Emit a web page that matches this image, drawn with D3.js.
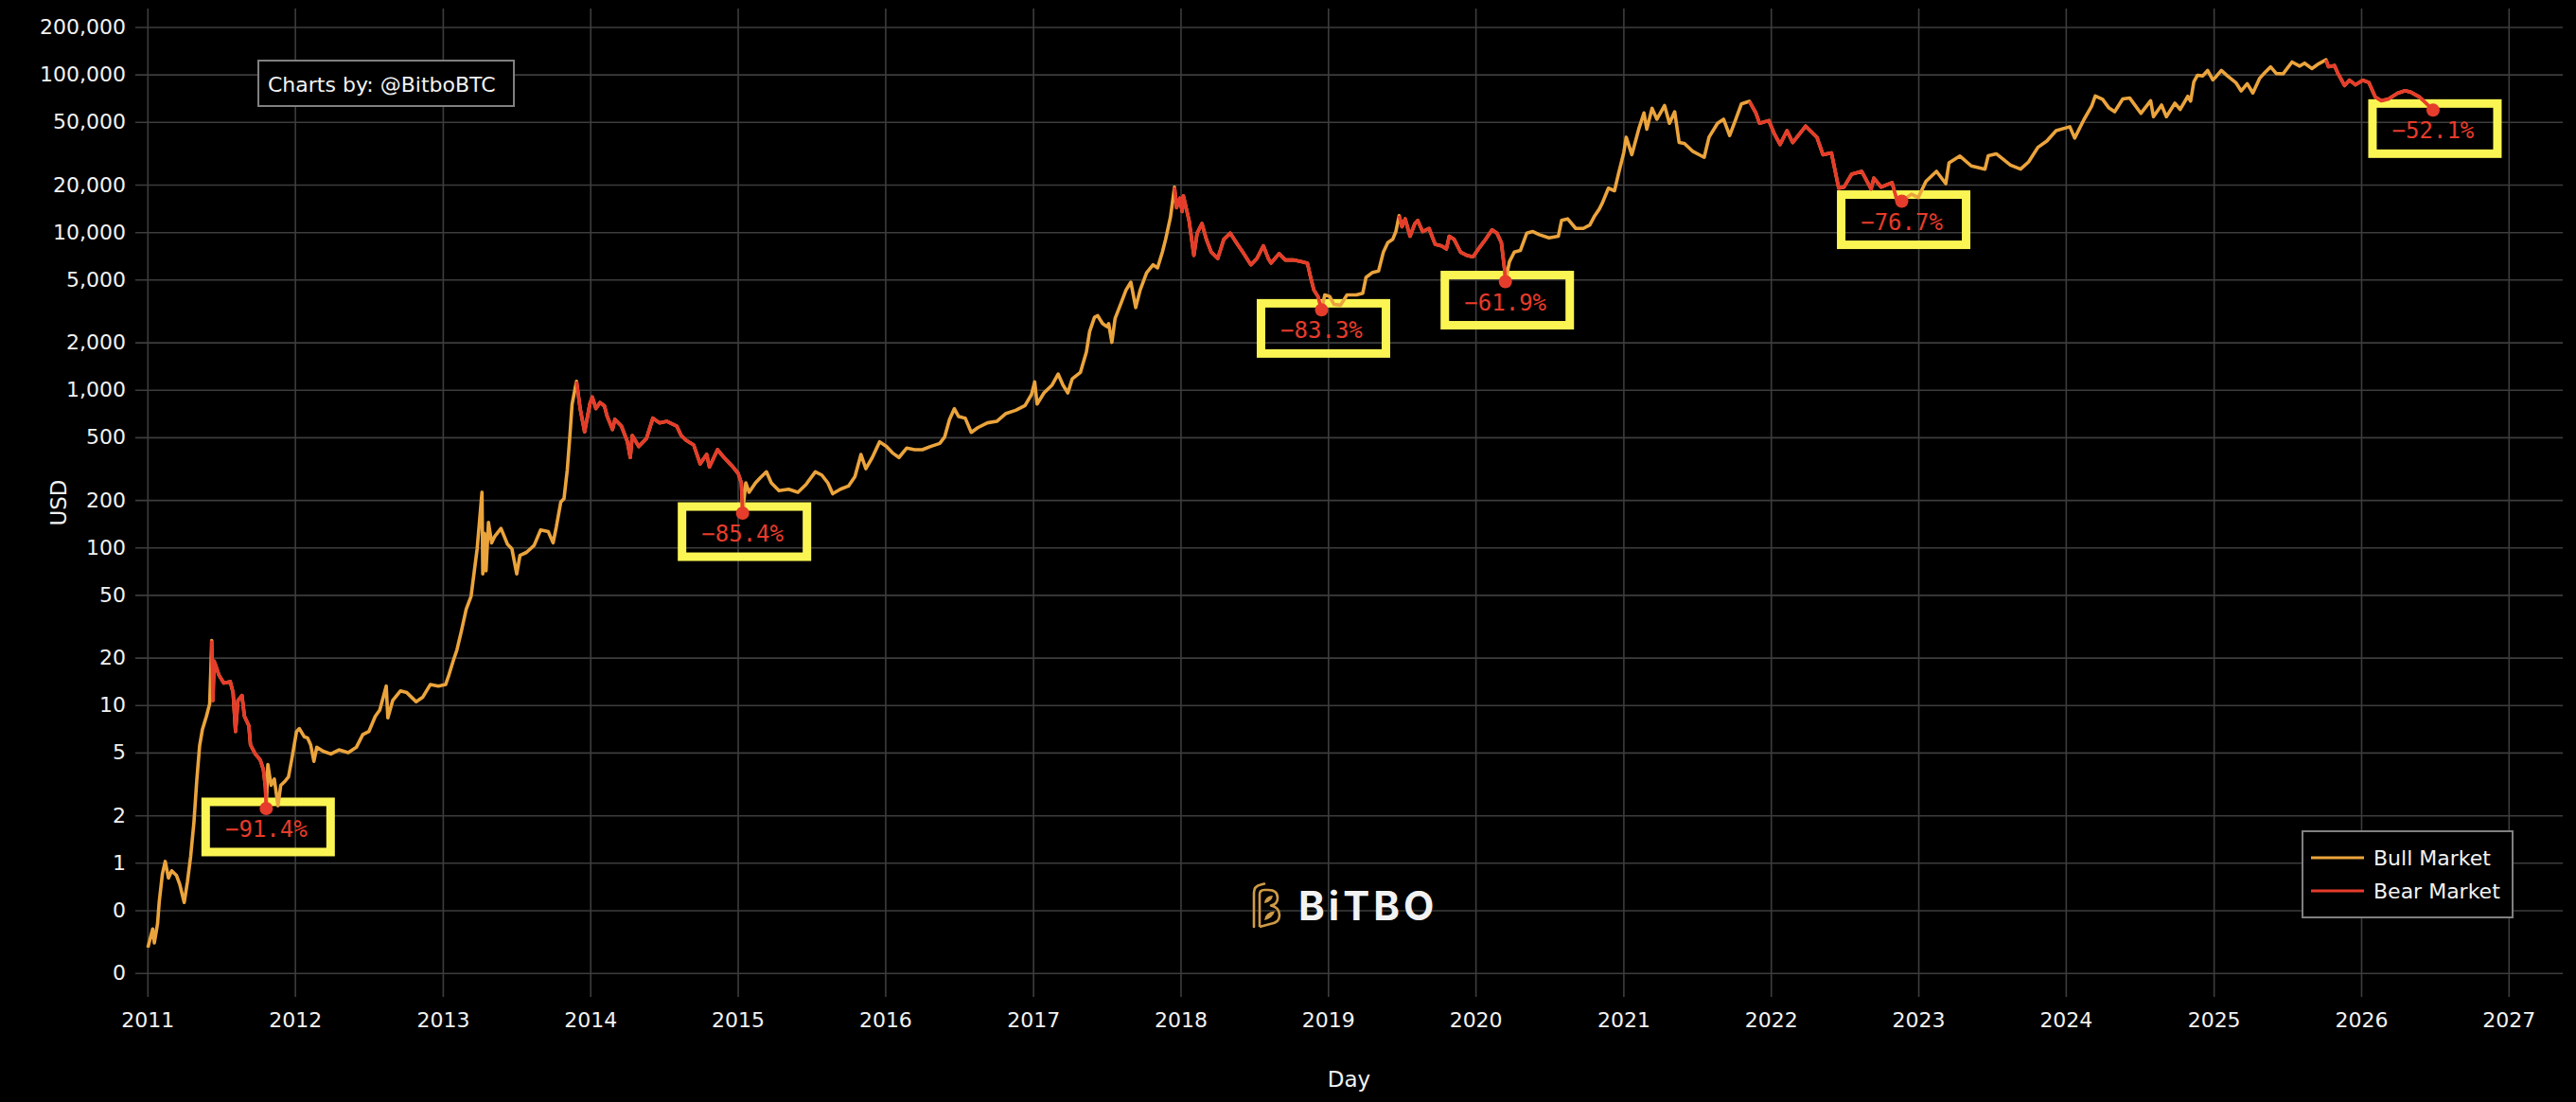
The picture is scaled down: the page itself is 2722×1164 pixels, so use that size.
<!DOCTYPE html>
<html>
<head>
<meta charset="utf-8">
<script src="https://cdn.jsdelivr.net/npm/d3@7"></script>
<style>
  html, body { margin: 0; padding: 0; background: #000; }
  svg { display: block; }
  .tick text { font-family: "DejaVu Sans", Verdana, sans-serif; font-size: 22px; fill: #f2f2f2; }
</style>
</head>
<body>
<div id="chart"></div>
<script>
// ---- data ----
const btcSeries = [
  ["2011-01-02",0.29],["2011-01-14",0.38],["2011-01-18",0.31],["2011-01-26",0.41],["2011-01-30",0.56],["2011-02-07",0.85],
  ["2011-02-14",1.02],["2011-02-22",0.80],["2011-03-02",0.89],["2011-03-14",0.83],["2011-03-22",0.73],["2011-04-02",0.56],
  ["2011-04-10",0.76],["2011-04-18",1.1],["2011-04-26",1.8],["2011-05-03",3.3],["2011-05-10",5.5],["2011-05-17",7.0],
  ["2011-05-27",8.5],["2011-06-04",10.2],["2011-06-07",17],
  ["2011-06-09",25.7],["2011-06-12",10.7],["2011-06-15",19],["2011-06-19",17.8],["2011-06-27",15.5],["2011-07-09",13.8],
  ["2011-07-25",14.1],["2011-08-01",12],["2011-08-07",6.8],["2011-08-13",10.7],["2011-08-23",11.5],["2011-08-29",8.5],
  ["2011-09-09",7.4],["2011-09-13",5.6],["2011-09-25",4.9],["2011-10-07",4.5],["2011-10-15",3.9],["2011-10-20",3.0],
  ["2011-10-22",2.21],
  ["2011-10-26",4.2],["2011-11-03",3.1],["2011-11-11",3.4],["2011-11-20",2.3],["2011-11-27",3.1],["2011-12-08",3.3],
  ["2011-12-16",3.5],["2011-12-24",4.5],["2012-01-05",6.8],["2012-01-12",7.1],["2012-01-24",6.3],["2012-02-01",6.2],
  ["2012-02-09",5.6],["2012-02-17",4.4],["2012-02-24",5.4],["2012-03-11",5.1],["2012-03-30",4.9],["2012-04-19",5.2],
  ["2012-05-12",5.0],["2012-06-01",5.4],["2012-06-17",6.5],["2012-07-02",6.8],["2012-07-18",8.5],["2012-07-29",9.3],
  ["2012-08-14",13.2],["2012-08-18",8.3],["2012-08-30",10.7],["2012-09-18",12.3],["2012-10-04",12],["2012-10-19",11],
  ["2012-10-27",10.5],["2012-11-12",11.2],["2012-12-01",13.5],["2012-12-21",13.2],["2013-01-08",13.5],["2013-01-16",15.5],
  ["2013-01-28",19.5],["2013-02-05",22.4],["2013-02-16",29.5],["2013-02-28",40.7],["2013-03-12",49],["2013-03-20",70.8],
  ["2013-03-27",97.7],["2013-04-08",224],["2013-04-10",68],["2013-04-14",123],["2013-04-18",71],["2013-04-24",144],
  ["2013-05-02",107],["2013-05-09",117],["2013-05-25",132],["2013-06-10",105],["2013-06-21",98],["2013-07-03",68],
  ["2013-07-11",89],["2013-07-27",93],["2013-08-15",103],["2013-08-31",129],["2013-09-19",126],["2013-10-01",107],
  ["2013-10-09",135],["2013-10-20",194],["2013-10-28",204],["2013-11-05",309],["2013-11-11",489],["2013-11-17",810],
  ["2013-11-28",1130],["2013-12-07",760],["2013-12-18",540],["2013-12-31",814],["2014-01-06",900],["2014-01-15",760],
  ["2014-01-25",830],["2014-02-05",790],["2014-02-12",677],["2014-02-25",560],["2014-03-03",650],["2014-03-19",589],
  ["2014-04-03",468],["2014-04-10",372],["2014-04-15",513],["2014-05-01",437],["2014-05-20",490],["2014-06-05",661],
  ["2014-06-21",617],["2014-07-10",631],["2014-08-03",589],["2014-08-14",513],["2014-08-26",479],["2014-09-14",447],
  ["2014-09-30",339],["2014-10-16",389],["2014-10-23",324],["2014-11-12",417],["2014-11-28",372],["2014-12-17",331],
  ["2015-01-02",295],["2015-01-10",257],["2015-01-13",165],
  ["2015-01-21",257],["2015-01-29",224],["2015-02-14",257],["2015-02-25",275],["2015-03-13",302],["2015-03-25",257],
  ["2015-04-13",229],["2015-05-07",234],["2015-05-30",224],["2015-06-19",251],["2015-07-12",302],["2015-07-28",288],
  ["2015-08-12",257],["2015-08-24",219],["2015-09-12",234],["2015-10-02",245],["2015-10-18",281],["2015-11-02",389],
  ["2015-11-14",316],["2015-11-30",372],["2015-12-18",468],["2016-01-04",437],["2016-01-19",398],["2016-02-04",372],
  ["2016-02-23",427],["2016-03-14",417],["2016-04-02",417],["2016-04-22",437],["2016-05-15",457],["2016-05-27",501],
  ["2016-06-08",646],["2016-06-20",758],["2016-07-01",676],["2016-07-17",661],["2016-08-01",537],["2016-08-17",575],
  ["2016-09-10",617],["2016-10-03",631],["2016-10-26",708],["2016-11-19",741],["2016-12-12",794],["2016-12-28",933],
  ["2017-01-05",1122],["2017-01-11",813],["2017-01-28",955],["2017-02-17",1072],["2017-03-04",1259],["2017-03-16",1072],
  ["2017-03-28",955],["2017-04-08",1175],["2017-04-28",1288],["2017-05-13",1738],["2017-05-21",2344],["2017-06-02",2884],
  ["2017-06-10",2951],["2017-06-22",2630],["2017-07-03",2512],["2017-07-07",2630],["2017-07-15",2000],["2017-07-23",2835],
  ["2017-08-07",3562],["2017-08-19",4290],["2017-08-31",4815],["2017-09-12",3325],["2017-09-23",4290],["2017-10-09",5525],
  ["2017-10-25",6211],["2017-11-05",5933],["2017-11-17",7473],["2017-11-25",8990],["2017-12-07",12430],
  ["2017-12-17",19290],["2017-12-22",14280],["2017-12-30",16400],["2018-01-05",13500],["2018-01-08",17000],["2018-01-22",11860],
  ["2018-02-03",7130],["2018-02-11",9860],["2018-02-23",11330],["2018-03-06",8990],["2018-03-18",7470],["2018-04-03",6810],
  ["2018-04-18",8990],["2018-05-04",9860],["2018-05-19",8590],["2018-06-04",7470],["2018-06-24",6210],["2018-07-09",6810],
  ["2018-07-25",8190],["2018-08-06",6810],["2018-08-13",6360],["2018-09-02",7300],["2018-09-17",6660],["2018-10-07",6660],
  ["2018-10-26",6500],["2018-11-11",6360],["2018-11-19",5160],["2018-11-27",4290],["2018-12-07",3910],["2018-12-16",3210],
  ["2018-12-24",4000],["2019-01-05",3910],["2019-01-16",3480],["2019-02-01",3440],["2019-02-17",4000],["2019-03-12",4000],
  ["2019-03-28",4100],["2019-04-05",5160],["2019-04-20",5525],["2019-05-06",5660],["2019-05-18",7470],["2019-05-29",8590],
  ["2019-06-10",9000],["2019-06-18",10100],
  ["2019-06-26",12730],["2019-07-03",10820],["2019-07-11",12140],["2019-07-23",9420],["2019-08-04",11330],["2019-08-11",11860],
  ["2019-08-23",10090],["2019-09-08",10560],["2019-09-23",8390],["2019-10-09",8190],["2019-10-21",7820],["2019-10-28",9420],
  ["2019-11-09",9000],["2019-11-25",7470],["2019-12-10",7130],["2019-12-26",6970],["2020-01-11",8000],["2020-01-26",9000],
  ["2020-02-11",10330],["2020-02-23",9860],["2020-03-05",8590],["2020-03-13",5790],["2020-03-15",4850],
  ["2020-03-25",6500],["2020-04-06",7470],["2020-04-21",7650],["2020-05-07",9860],["2020-05-22",10090],["2020-06-07",9640],
  ["2020-07-01",9200],["2020-07-24",9420],["2020-08-01",11860],["2020-08-16",12140],["2020-09-05",10560],["2020-09-24",10560],
  ["2020-10-10",11100],["2020-10-22",12700],["2020-11-02",13950],["2020-11-10",15300],["2020-11-25",19000],["2020-12-10",18300],
  ["2020-12-20",23500],["2021-01-02",32000],["2021-01-08",40000],["2021-01-22",31000],["2021-02-08",45000],["2021-02-21",57000],
  ["2021-02-28",45000],["2021-03-13",61000],["2021-03-25",52000],["2021-04-13",63500],["2021-04-25",49000],["2021-05-08",58000],
  ["2021-05-19",37000],["2021-06-01",36500],["2021-06-22",32500],["2021-07-20",29800],["2021-08-01",40000],["2021-08-22",49000],
  ["2021-09-06",52000],["2021-09-21",41000],["2021-10-05",51000],["2021-10-20",65000],
  ["2021-11-09",67500],["2021-11-25",57000],["2021-12-04",49000],["2021-12-27",51000],["2022-01-10",41800],["2022-01-24",36000],
  ["2022-02-10",44000],["2022-02-24",37000],["2022-03-28",47000],["2022-04-25",40000],["2022-05-10",31000],["2022-05-31",31800],
  ["2022-06-18",19000],["2022-07-01",19300],["2022-07-20",23300],["2022-08-14",24300],["2022-09-06",18800],["2022-09-13",22000],
  ["2022-10-01",19300],["2022-10-28",20600],["2022-11-09",16000],["2022-11-21",15700],
  ["2022-12-15",17400],["2023-01-01",16600],["2023-01-20",21000],["2023-02-15",24300],["2023-03-10",20300],["2023-03-18",27500],
  ["2023-04-14",30400],["2023-05-12",26300],["2023-06-15",25100],["2023-06-23",30500],["2023-07-13",31400],["2023-08-17",26600],
  ["2023-09-11",25100],["2023-10-01",27900],["2023-10-24",34500],["2023-11-15",37800],["2023-12-08",44000],["2024-01-11",46600],
  ["2024-01-23",39500],["2024-02-15",51800],["2024-03-05",63000],["2024-03-14",73000],["2024-04-01",69600],["2024-04-17",61300],
  ["2024-05-01",58000],["2024-05-21",70000],["2024-06-07",71000],["2024-07-05",56700],["2024-07-29",68200],["2024-08-05",54000],
  ["2024-08-25",64000],["2024-09-06",54000],["2024-09-27",65800],["2024-10-10",60000],["2024-10-29",72700],["2024-11-05",67800],
  ["2024-11-13",90000],["2024-11-22",98900],["2024-12-05",98000],["2024-12-17",106000],["2024-12-30",92500],["2025-01-07",96900],
  ["2025-01-20",106000],["2025-02-04",98000],["2025-02-25",88700],["2025-03-10",78600],["2025-03-25",87500],["2025-04-08",76300],
  ["2025-04-25",94700],["2025-05-08",103000],["2025-05-22",111700],["2025-06-05",101500],["2025-06-22",101000],["2025-07-14",120000],
  ["2025-08-02",113000],["2025-08-14",118000],["2025-09-01",109000],["2025-09-18",117000],
  ["2025-10-06",124000],["2025-10-12",112000],["2025-10-27",114000],["2025-11-05",101000],["2025-11-21",85000],["2025-12-03",92000],
  ["2025-12-18",86000],["2026-01-05",92000],["2026-01-20",89000],["2026-02-05",72000],["2026-02-20",68000],["2026-03-10",70000],
  ["2026-04-01",76000],["2026-04-20",79000],["2026-05-05",77000],["2026-05-25",72000],["2026-06-10",66000],["2026-06-28",59400]
];

// bear market windows: peak date -> bottom date
const bearMarkets = [
  ["2011-06-09", "2011-10-22"],
  ["2013-11-28", "2015-01-13"],
  ["2017-12-17", "2018-12-16"],
  ["2019-06-26", "2020-03-15"],
  ["2021-11-09", "2022-11-21"],
  ["2025-10-06", "2026-06-28"]
];
const drawdownLabels = ["−91.4%", "−85.4%", "−83.3%", "−61.9%", "−76.7%", "−52.1%"];

const yTickValues = [0.2, 0.5, 1, 2, 5, 10, 20, 50, 100, 200, 500, 1000, 2000, 5000, 10000, 20000, 50000, 100000, 200000];
const yTickLabels = ["0", "0", "1", "2", "5", "10", "20", "50", "100", "200", "500", "1,000", "2,000", "5,000",
                     "10,000", "20,000", "50,000", "100,000", "200,000"];
const xTickYears = [2011, 2012, 2013, 2014, 2015, 2016, 2017, 2018, 2019, 2020, 2021, 2022, 2023, 2024, 2025, 2026, 2027];
const legendItems = ["Bull Market", "Bear Market"];

// ---- layout ----
const width = 2722, height = 1164;
const plot = { left: 143, right: 2708, top: 9, bottom: 1053 };
const colors = { bull: "#eba43c", bear: "#e63c2b", grid: "#3d3d3d", box: "#fbf553", text: "#f2f2f2" };

const parse = d3.utcParse("%Y-%m-%d");
const points = btcSeries.map(([d, v]) => ({ date: parse(d), value: v }));

const x = d3.scaleUtc()
  .domain([parse("2010-12-02"), parse("2027-05-15")])
  .range([plot.left, plot.right]);
const y = d3.scaleLog()
  .domain([0.141, 262000])
  .range([plot.bottom, plot.top]);

const svg = d3.select("#chart").append("svg")
  .attr("width", width)
  .attr("height", height)
  .style("background", "#000");

// grid
svg.append("g")
  .attr("transform", `translate(${plot.left},0)`)
  .call(d3.axisLeft(y).tickValues(yTickValues).tickSize(-(plot.right - plot.left)).tickFormat(""))
  .call(g => g.select(".domain").remove())
  .call(g => g.selectAll("line").attr("stroke", colors.grid).attr("stroke-width", 1.6));

const yearDates = xTickYears.map(yr => new Date(Date.UTC(yr, 0, 1)));
svg.append("g")
  .attr("transform", `translate(0,${plot.bottom})`)
  .call(d3.axisBottom(x).tickValues(yearDates).tickSize(-(plot.bottom - plot.top)).tickFormat(""))
  .call(g => g.select(".domain").remove())
  .call(g => g.selectAll("line").attr("stroke", colors.grid).attr("stroke-width", 1.6));

// axes labels
svg.append("g")
  .attr("transform", `translate(${plot.left},0)`)
  .call(d3.axisLeft(y).tickValues(yTickValues).tickSize(0).tickPadding(10)
    .tickFormat(d => yTickLabels[yTickValues.indexOf(d)]))
  .call(g => g.select(".domain").remove());

svg.append("g")
  .attr("transform", `translate(0,${plot.bottom})`)
  .call(d3.axisBottom(x).tickValues(yearDates).tickSize(0).tickPadding(16).tickFormat(d3.utcFormat("%Y")))
  .call(g => g.select(".domain").remove());

svg.append("text")
  .attr("x", (plot.left + plot.right) / 2)
  .attr("y", 1148)
  .attr("text-anchor", "middle")
  .style("font-family", "DejaVu Sans, Verdana, sans-serif")
  .style("font-size", "23px")
  .style("fill", colors.text)
  .text("Day");

svg.append("text")
  .attr("transform", `translate(70,${(plot.top + plot.bottom) / 2}) rotate(-90)`)
  .attr("text-anchor", "middle")
  .style("font-family", "DejaVu Sans, Verdana, sans-serif")
  .style("font-size", "23px")
  .style("fill", colors.text)
  .text("USD");

// drawdown boxes (behind the price line)
const bears = bearMarkets.map(([s, e]) => ({ start: parse(s), end: parse(e) }));
const bottoms = bears.map((b, i) => {
  const seg = points.filter(p => p.date >= b.start && p.date <= b.end);
  const low = d3.least(seg, p => p.value);
  return { date: low.date, value: low.value, label: drawdownLabels[i], seg };
});

const boxes = svg.append("g").attr("class", "drawdown-boxes");
boxes.selectAll("rect")
  .data(bottoms)
  .join("rect")
  .attr("x", d => x(d.date) - 64)
  .attr("y", d => y(d.value) - 7)
  .attr("width", 132)
  .attr("height", 53)
  .attr("fill", "none")
  .attr("stroke", colors.box)
  .attr("stroke-width", 9);

// price line
const line = d3.line()
  .x(d => x(d.date))
  .y(d => y(d.value));

svg.append("path")
  .datum(points)
  .attr("fill", "none")
  .attr("stroke", colors.bull)
  .attr("stroke-width", 3.6)
  .attr("stroke-linejoin", "round")
  .attr("d", line);

svg.append("g")
  .selectAll("path")
  .data(bottoms)
  .join("path")
  .attr("fill", "none")
  .attr("stroke", colors.bear)
  .attr("stroke-width", 3.6)
  .attr("stroke-linejoin", "round")
  .attr("d", d => line(d.seg));

// bottoms: dot + label
svg.append("g")
  .selectAll("circle")
  .data(bottoms)
  .join("circle")
  .attr("cx", d => x(d.date))
  .attr("cy", d => y(d.value))
  .attr("r", 7)
  .attr("fill", colors.bear);

svg.append("g")
  .selectAll("text")
  .data(bottoms)
  .join("text")
  .attr("x", d => x(d.date))
  .attr("y", d => y(d.value) + 30)
  .attr("text-anchor", "middle")
  .style("font-family", "DejaVu Sans Mono, monospace")
  .style("font-size", "24px")
  .style("fill", colors.bear)
  .text(d => d.label);

// "Charts by" badge
const badge = svg.append("g").attr("transform", "translate(272,63)");
badge.append("rect")
  .attr("x", 1).attr("y", 1).attr("width", 270).attr("height", 48)
  .attr("fill", "#000").attr("stroke", "#808080").attr("stroke-width", 2);
badge.append("text")
  .attr("x", 11).attr("y", 34)
  .style("font-family", "DejaVu Sans, Verdana, sans-serif")
  .style("font-size", "22px")
  .style("fill", colors.text)
  .text("Charts by: @BitboBTC");

// legend
const legend = svg.append("g").attr("transform", "translate(2432,877)");
legend.append("rect")
  .attr("x", 1).attr("y", 1).attr("width", 222).attr("height", 91)
  .attr("fill", "#000").attr("stroke", "#808080").attr("stroke-width", 2);
legend.selectAll("g.item")
  .data(legendItems)
  .join("g")
  .attr("class", "item")
  .attr("transform", (d, i) => `translate(0,${29 + i * 35})`)
  .each(function (d, i) {
    const g = d3.select(this);
    g.append("line")
      .attr("x1", 10).attr("x2", 66)
      .attr("stroke", i === 0 ? colors.bull : colors.bear)
      .attr("stroke-width", 3);
    g.append("text")
      .attr("x", 76).attr("y", 8)
      .style("font-family", "DejaVu Sans, Verdana, sans-serif")
      .style("font-size", "22px")
      .style("fill", colors.text)
      .text(d);
  });

// BiTBO watermark
const mark = svg.append("g").attr("transform", "translate(1322,933)");
mark.append("path")
  .attr("d", "M3,46 L3,10 Q3,3 10,1.5 L14,0.5")
  .attr("fill", "none").attr("stroke", "#cf9b45").attr("stroke-width", 2.6).attr("stroke-linecap", "round");
mark.append("path")
  .attr("d", "M9,46 L9,12 Q9,7 14,7 L18,7 Q28,7 28,15.5 Q28,22 21,23.5 Q30,25.5 30,33.5 Q30,42 20,43 L9,46")
  .attr("fill", "none").attr("stroke", "#cf9b45").attr("stroke-width", 2.6).attr("stroke-linejoin", "round");
mark.append("path")
  .attr("d", "M14,21 Q15,13 23,13 Q22,19.5 14,21 Z")
  .attr("fill", "#cf9b45");
mark.append("path")
  .attr("d", "M14,39 Q15,30 25,29.5 Q23,37 14,39 Z")
  .attr("fill", "#cf9b45");
svg.append("text")
  .attr("x", 1372).attr("y", 972)
  .style("font-family", "Inter, 'DejaVu Sans', sans-serif")
  .style("font-weight", 700)
  .style("font-size", "42px")
  .style("letter-spacing", "4px")
  .style("fill", "#f2f2f2")
  .text("BiTBO");
</script>
</body>
</html>
